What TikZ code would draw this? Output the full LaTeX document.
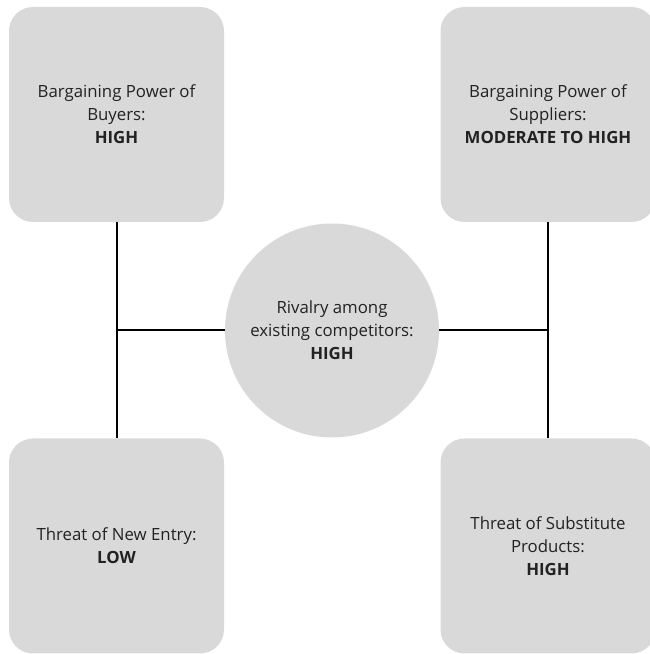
\documentclass[tikz,border=0pt]{standalone}
\usepackage{fontspec}
\setmainfont{Open Sans}
\usetikzlibrary{positioning}
\definecolor{forcegrey}{HTML}{D9D9D9}
\definecolor{labelgrey}{HTML}{222222}

\begin{document}
\begin{tikzpicture}[x=1pt, y=1pt,
    force/.style={rectangle, fill=forcegrey, rounded corners=24pt,
        minimum width=215pt, minimum height=215pt, inner sep=0pt,
        align=center, text=labelgrey, font=\fontsize{16.8}{23}\selectfont},
    rival/.style={circle, fill=forcegrey, minimum size=214pt, inner sep=0pt,
        align=center, text=labelgrey, font=\fontsize{16.8}{23}\selectfont},
    link/.style={line width=2pt, black}]

    % Page frame
    \useasboundingbox (0,0) rectangle (649,654);

    % The four outer forces
    \node[force] (buyers) at (116.5,539.5)
        {Bargaining Power of\\Buyers:\\\textbf{HIGH}};
    \node[force] (suppliers) at (548,539.5)
        {Bargaining Power of\\Suppliers:\\\textbf{MODERATE TO HIGH}};
    \node[force] (entry) at (116.5,108)
        {Threat of New Entry:\\\textbf{LOW}};
    \node[force] (substitutes) at (548,108)
        {Threat of Substitute\\Products:\\\textbf{HIGH}};

    % Centre force
    \node[rival] (rivalry) at (332,323.5)
        {Rivalry among\\existing competitors:\\\textbf{HIGH}};

    % Vertical links between the boxes
    \draw[link] (buyers.south) -- (entry.north);
    \draw[link] (suppliers.south) -- (substitutes.north);

    % Horizontal links to the centre
    \coordinate (leftjoin) at (rivalry.west -| buyers.south);
    \coordinate (rightjoin) at (rivalry.east -| suppliers.south);
    \draw[link] (rivalry.west) -- (leftjoin);
    \draw[link] (rivalry.east) -- (rightjoin);

\end{tikzpicture}
\end{document}
